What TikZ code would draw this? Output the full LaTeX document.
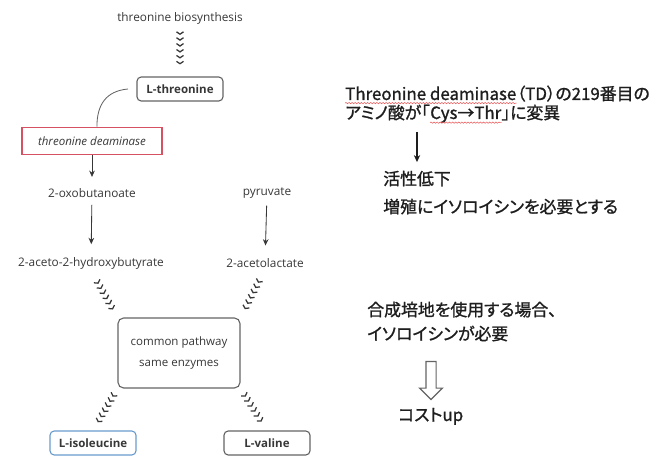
\documentclass[tikz,border=0pt]{standalone}
\usepackage{fontspec}
\setsansfont{Open Sans}
\newfontfamily\jpfont[RawFeature=+palt, FakeBold=1.2]{Noto Sans CJK JP}
\usetikzlibrary{positioning, arrows.meta, decorations.markings, decorations.pathmorphing, shapes.arrows}
\definecolor{PathGray}{RGB}{55,55,55}
\definecolor{BoxGray}{RGB}{100,100,100}
\definecolor{EnzRed}{RGB}{214,82,98}
\definecolor{ProdBlue}{RGB}{105,155,205}
\definecolor{SpellRed}{RGB}{235,95,95}
\definecolor{NoteBlack}{RGB}{30,30,30}
\tikzset{
  met/.style={font=\sffamily\fontsize{8.4}{10}\selectfont, text=PathGray, inner sep=1pt},
  aabox/.style={draw=BoxGray, thick, rounded corners=3pt, inner sep=0pt,
    font=\sffamily\bfseries\fontsize{8.2}{10}\selectfont, text=PathGray,
    minimum width=2.15cm, minimum height=0.6cm},
  enzbox/.style={draw=EnzRed, line width=1pt, inner sep=0pt, minimum width=3.5cm, minimum height=0.68cm,
    font=\sffamily\itshape\fontsize{8.2}{10}\selectfont, text=PathGray},
  poolbox/.style={draw=BoxGray, thick, rounded corners=4pt, align=center, inner sep=0pt,
    minimum width=3.05cm, minimum height=1.75cm,
    font=\sffamily\fontsize{8.2}{15}\selectfont, text=PathGray},
  steparr/.style={-{Stealth[length=4.5pt, width=4pt]}, semithick, PathGray},
  link/.style={semithick, BoxGray},
  % stack of small chevrons = several enzymatic steps
  multistep/.style 2 args={decorate, decoration={markings,
    mark=between positions #1 and #2 step 4.2pt with
      {\draw[PathGray, line width=0.9pt] (-1pt,2.5pt) -- (0.7pt,0pt) -- (-1pt,-2.5pt);}}},
  jp/.style={font=\jpfont\fontsize{12}{14}\selectfont, text=NoteBlack, inner sep=0pt, anchor=base west},
  spell/.style={SpellRed, line width=0.4pt, decorate,
    decoration={snake, amplitude=0.45pt, segment length=2.2pt}},
  notearr/.style={-{Stealth[length=5pt, width=4.5pt]}, thick, NoteBlack},
  hollowarr/.style={shape=single arrow, draw=BoxGray, thick, fill=white, inner sep=3.2pt,
    single arrow head extend=0.16cm, minimum height=0.95cm, shape border rotate=270},
}
\begin{document}
\begin{tikzpicture}[x=0.025cm, y=-0.025cm]
  \useasboundingbox (0,0) rectangle (660,457);

  % isoleucine / valine pathway
  \node[met] (bio) at (180,18) {threonine biosynthesis};
  \node[aabox] (thr) at (180,89) {L-threonine};
  \node[enzbox] (td) at (92,141) {threonine deaminase};
  \node[met] (oxo) at (92,193) {2-oxobutanoate};
  \node[met] (ahb) at (91,263) {2-aceto-2-hydroxybutyrate};
  \node[met] (pyr) at (267,193) {pyruvate};
  \node[met] (al) at (265,263) {2-acetolactate};
  \node[poolbox] (cp) at (179,353) {common pathway\\same enzymes};
  \node[aabox, draw=ProdBlue] (ile) at (93,443) {L-isoleucine};
  \node[aabox] (val) at (267,443) {L-valine};

  \path[multistep={0.15}{0.78}] (bio) -- (thr);
  \draw[link] ([xshift=-6pt]thr.west) .. controls +(-22,2) and +(0,-22) .. ([xshift=3.5pt]td.north);
  \draw[steparr, shorten >=7pt] (td) -- (oxo);
  \draw[steparr, shorten <=4pt, shorten >=8pt] (oxo) -- (ahb);
  \draw[steparr, shorten <=4pt, shorten >=8pt] (pyr) -- (al);
  \path[multistep={0.25}{0.8}] (ahb.south) -- (cp.north west);
  \path[multistep={0.25}{0.8}] (al.south) -- (cp.north east);
  \path[multistep={0.16}{0.82}] (cp.south west) -- (ile.north);
  \path[multistep={0.16}{0.82}] (cp.south east) -- (val.north);

  % notes on the TD mutant
  \node[jp] (tdname) at (345,100) {Threonine deaminase};
  \node[jp] (tdpos) at (tdname.base east) {（TD）の219番目の};
  \node[jp] (aa1) at (345,119) {アミノ酸が「};
  \node[jp] (cys) at (aa1.base east) {Cys→Thr};
  \node[jp] (aa2) at (cys.base east) {」に変異};
  \draw[spell] ([yshift=-2.2pt]tdname.base west) -- ([yshift=-2.2pt]tdname.base east);
  \draw[spell] ([yshift=-2.6pt]cys.base west) -- ([yshift=-2.6pt]cys.base east);

  \node[jp] (act) at (383,185) {活性低下};
  \node[jp] (need) at (383,213) {増殖にイソロイシンを必要とする};
  \coordinate (ax) at (417,0);
  \draw[notearr, shorten <=8pt, shorten >=6pt] (aa1.south -| ax) -- (act.north -| ax);

  \node[jp] (med1) at (367,316) {合成培地を使用する場合、};
  \node[jp] (med2) at (367,340) {イソロイシンが必要};
  \node[hollowarr] (down) at (431,378) {};
  \node[jp] (cost) at (398,421) {コストup};
\end{tikzpicture}
\end{document}
